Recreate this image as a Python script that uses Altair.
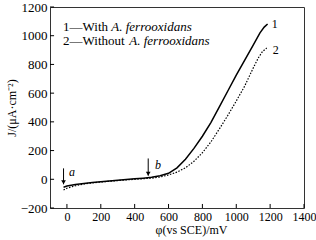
import altair as alt
import pandas as pd

# Curve 1: with A. ferrooxidans (solid)
phi1 = [-20, 0, 50, 100, 150, 200, 300, 400, 450, 500, 550, 600, 650, 700, 750, 800,
        850, 900, 950, 1000, 1050, 1100, 1140, 1165, 1185]
j1 = [-55, -47, -37, -29, -23, -17, -7, 3, 8, 14, 25, 42, 80, 140, 215, 300,
      395, 505, 615, 725, 830, 935, 1020, 1060, 1082]
# Curve 2: without A. ferrooxidans (dotted)
phi2 = [-20, 0, 50, 100, 150, 200, 300, 400, 450, 500, 550, 600, 650, 700, 750, 800,
        850, 900, 950, 1000, 1050, 1100, 1130, 1155, 1180]
j2 = [-75, -62, -45, -33, -25, -19, -9, 0, 4, 8, 16, 30, 50, 80, 125, 185,
      260, 350, 445, 545, 650, 775, 845, 890, 915]

xticks = [0, 200, 400, 600, 800, 1000, 1200, 1400]
yticks = [-200, 0, 200, 400, 600, 800, 1000, 1200]

# annotations (data units)
curve_labels = ["1", "2"]
curve_label_x = [1210, 1215]
curve_label_y = [1080, 900]
legend_num = ["1\u2014With", "2\u2014Without"]
legend_it = ["A. ferrooxidans", "A. ferrooxidans"]
legend_x = [-23, -23]
legend_it_x = [262, 368]
legend_y = [1062, 960]
arrow_names = ["a", "b"]
arrow_x = [-20, 480]
arrow_top = [76, 145]
arrow_tip = [-35, 25]
arrow_label_x = [12, 520]
arrow_label_y = [48, 97]

FONT = "Liberation Serif"
xs = alt.Scale(domain=[-100, 1400], nice=False, zero=False)
ys = alt.Scale(domain=[-200, 1200], nice=False, zero=False)

c1 = pd.DataFrame({"phi": phi1, "j": j1})
c2 = pd.DataFrame({"phi": phi2, "j": j2})

xaxis = alt.Axis(values=xticks, ticks=False, domain=False, grid=False, format="d",
                 labelOverlap=False, labelFlush=False,
                 labelFont=FONT, labelFontSize=12, labelColor="black", labelPadding=3,
                 title="φ(vs SCE)/mV", titleFont=FONT, titleFontSize=12,
                 titleFontWeight="normal", titleColor="black", titlePadding=2, titleX=141)
yaxis = alt.Axis(values=yticks, ticks=False, domain=False, grid=False, format="d",
                 labelOverlap=False, labelFlush=False,
                 labelFont=FONT, labelFontSize=13, labelColor="black", labelPadding=3,
                 title="J/(μA·cm⁻²)", titleFont=FONT, titleFontSize=12,
                 titleFontWeight="normal", titleColor="black", titlePadding=2)


def X(field):
    return alt.X(field, scale=xs, axis=xaxis)


def Y(field):
    return alt.Y(field, scale=ys, axis=yaxis)


line1 = alt.Chart(c1).mark_line(color="black", strokeWidth=1.5).encode(
    x=X("phi:Q"), y=Y("j:Q"))
line2 = alt.Chart(c2).mark_line(color="black", strokeWidth=1.2, strokeDash=[1.5, 1.5]).encode(
    x=X("phi:Q"), y=Y("j:Q"))

xt = pd.DataFrame({"t": xticks, "y0": [-200] * len(xticks), "y1": [-172] * len(xticks)})
yt = pd.DataFrame({"t": yticks, "x0": [-100] * len(yticks), "x1": [-76] * len(yticks)})
xtick_rules = alt.Chart(xt).mark_rule(color="black", strokeWidth=1).encode(
    x=X("t:Q"), y=Y("y0:Q"), y2="y1:Q")
ytick_rules = alt.Chart(yt).mark_rule(color="black", strokeWidth=1).encode(
    y=Y("t:Q"), x=X("x0:Q"), x2="x1:Q")

cl = pd.DataFrame({"t": curve_labels, "x": curve_label_x, "y": curve_label_y})
clabels = alt.Chart(cl).mark_text(font=FONT, fontSize=12, align="left", color="black").encode(
    x=X("x:Q"), y=Y("y:Q"), text="t:N")

lg = pd.DataFrame({"n": legend_num, "it": legend_it, "x": legend_x, "xi": legend_it_x, "y": legend_y})
leg1 = alt.Chart(lg).mark_text(font=FONT, fontSize=13, align="left", color="black").encode(
    x=X("x:Q"), y=Y("y:Q"), text="n:N")
leg2 = alt.Chart(lg).mark_text(font=FONT, fontSize=13, align="left", fontStyle="italic",
                               color="black").encode(
    x=X("xi:Q"), y=Y("y:Q"), text="it:N")

ar = pd.DataFrame({"n": arrow_names, "x": arrow_x, "top": arrow_top, "tip": arrow_tip,
                   "lx": arrow_label_x, "ly": arrow_label_y})
arrow_rules = alt.Chart(ar).mark_rule(color="black", strokeWidth=1).encode(
    x=X("x:Q"), y=Y("top:Q"), y2="tip:Q")
arrow_heads = alt.Chart(ar).mark_point(shape="triangle-down", filled=True, color="black",
                                       size=22, opacity=1, yOffset=-2).encode(
    x=X("x:Q"), y=Y("tip:Q"))
arrow_labels = alt.Chart(ar).mark_text(font=FONT, fontSize=12, fontStyle="italic",
                                       align="left", color="black").encode(
    x=X("lx:Q"), y=Y("ly:Q"), text="n:N")

chart = alt.layer(
    line2, line1, xtick_rules, ytick_rules, clabels, leg1, leg2,
    arrow_rules, arrow_heads, arrow_labels
).properties(
    width=254, height=201,
    autosize=alt.AutoSizeParams(type="none"),
    padding={"left": 50, "top": 7, "right": 12, "bottom": 32},
    background="white",
).configure_view(stroke="#333333", strokeWidth=1).configure_axis(labelOverlap=False)

chart.save("out.html", embed_options={"renderer": "svg", "actions": False})
